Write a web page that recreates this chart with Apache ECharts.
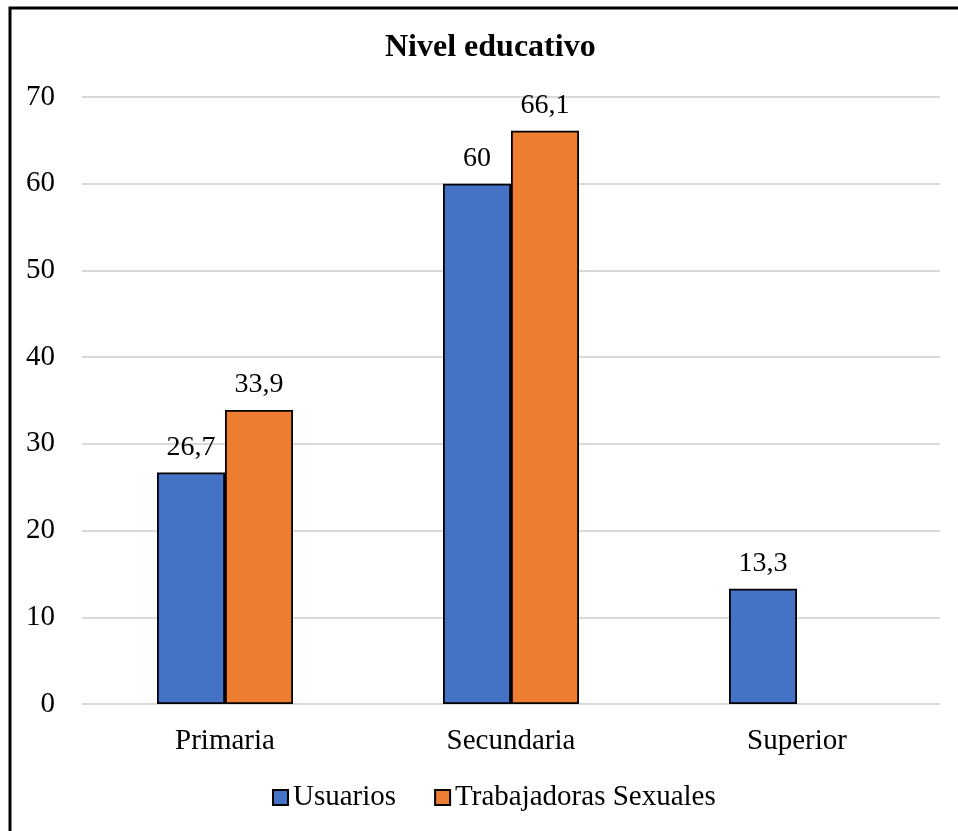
<!DOCTYPE html>
<html>
<head>
<meta charset="utf-8">
<script src="https://cdn.jsdelivr.net/npm/echarts@6/dist/echarts.min.js"></script>
<style>
  html, body { margin: 0; padding: 0; background: #fff; }
  #chart { width: 958px; height: 831px; }
</style>
</head>
<body>
<div id="chart"></div>
<script>
// Education level categories and percentages per group
const categories = ['Primaria', 'Secundaria', 'Superior'];
const usuarios = [26.7, 60, 13.3];
const trabajadoras = [33.9, 66.1, null];
const seriesNames = ['Usuarios', 'Trabajadoras Sexuales'];
const yTicks = { min: 0, max: 70, interval: 10 };

const FONT = '"Liberation Serif", "Times New Roman", serif';
const fmt = p => (p.value == null ? '' : String(p.value).replace('.', ','));

const chart = echarts.init(document.getElementById('chart'));
chart.setOption({
  backgroundColor: '#fff',
  animation: false,
  textStyle: { fontFamily: FONT, color: '#000' },
  title: {
    text: 'Nivel educativo',
    left: 385,
    top: 32,
    padding: 0,
    textStyle: { fontFamily: FONT, fontWeight: 'bold', fontSize: 32, color: '#000' }
  },
  graphic: [{
    type: 'rect',
    shape: { x: 10, y: 8, width: 980, height: 860 },
    style: { fill: 'none', stroke: '#000', lineWidth: 3 },
    silent: true
  }],
  legend: {
    top: 778,
    left: 267,
    itemWidth: 15,
    itemHeight: 15,
    itemGap: 38,
    icon: 'rect',
    textStyle: { fontFamily: FONT, fontSize: 29, color: '#000' },
    data: seriesNames
  },
  grid: { left: 82, right: 18, top: 97, bottom: 127, containLabel: false },
  xAxis: {
    type: 'category',
    data: categories,
    axisLine: { show: false },
    axisTick: { show: false },
    axisLabel: { fontFamily: FONT, fontSize: 29, color: '#000', margin: 23 }
  },
  yAxis: {
    type: 'value',
    min: yTicks.min,
    max: yTicks.max,
    interval: yTicks.interval,
    axisLine: { show: false },
    axisTick: { show: false },
    axisLabel: { fontFamily: FONT, fontSize: 29, color: '#000', margin: 27 },
    splitLine: { lineStyle: { color: '#d9d9d9', width: 2 } }
  },
  series: [
    {
      name: seriesNames[0],
      type: 'bar',
      data: usuarios,
      barGap: '0%',
      barWidth: 68,
      itemStyle: { color: '#4472c4', borderColor: '#000', borderWidth: 1.8 },
      label: { show: true, position: 'top', distance: 11, fontFamily: FONT, fontSize: 28, color: '#000', formatter: fmt }
    },
    {
      name: seriesNames[1],
      type: 'bar',
      data: trabajadoras,
      barGap: '0%',
      barWidth: 68,
      itemStyle: { color: '#ed7d31', borderColor: '#000', borderWidth: 1.8 },
      label: { show: true, position: 'top', distance: 11, fontFamily: FONT, fontSize: 28, color: '#000', formatter: fmt }
    }
  ]
});
</script>
</body>
</html>
